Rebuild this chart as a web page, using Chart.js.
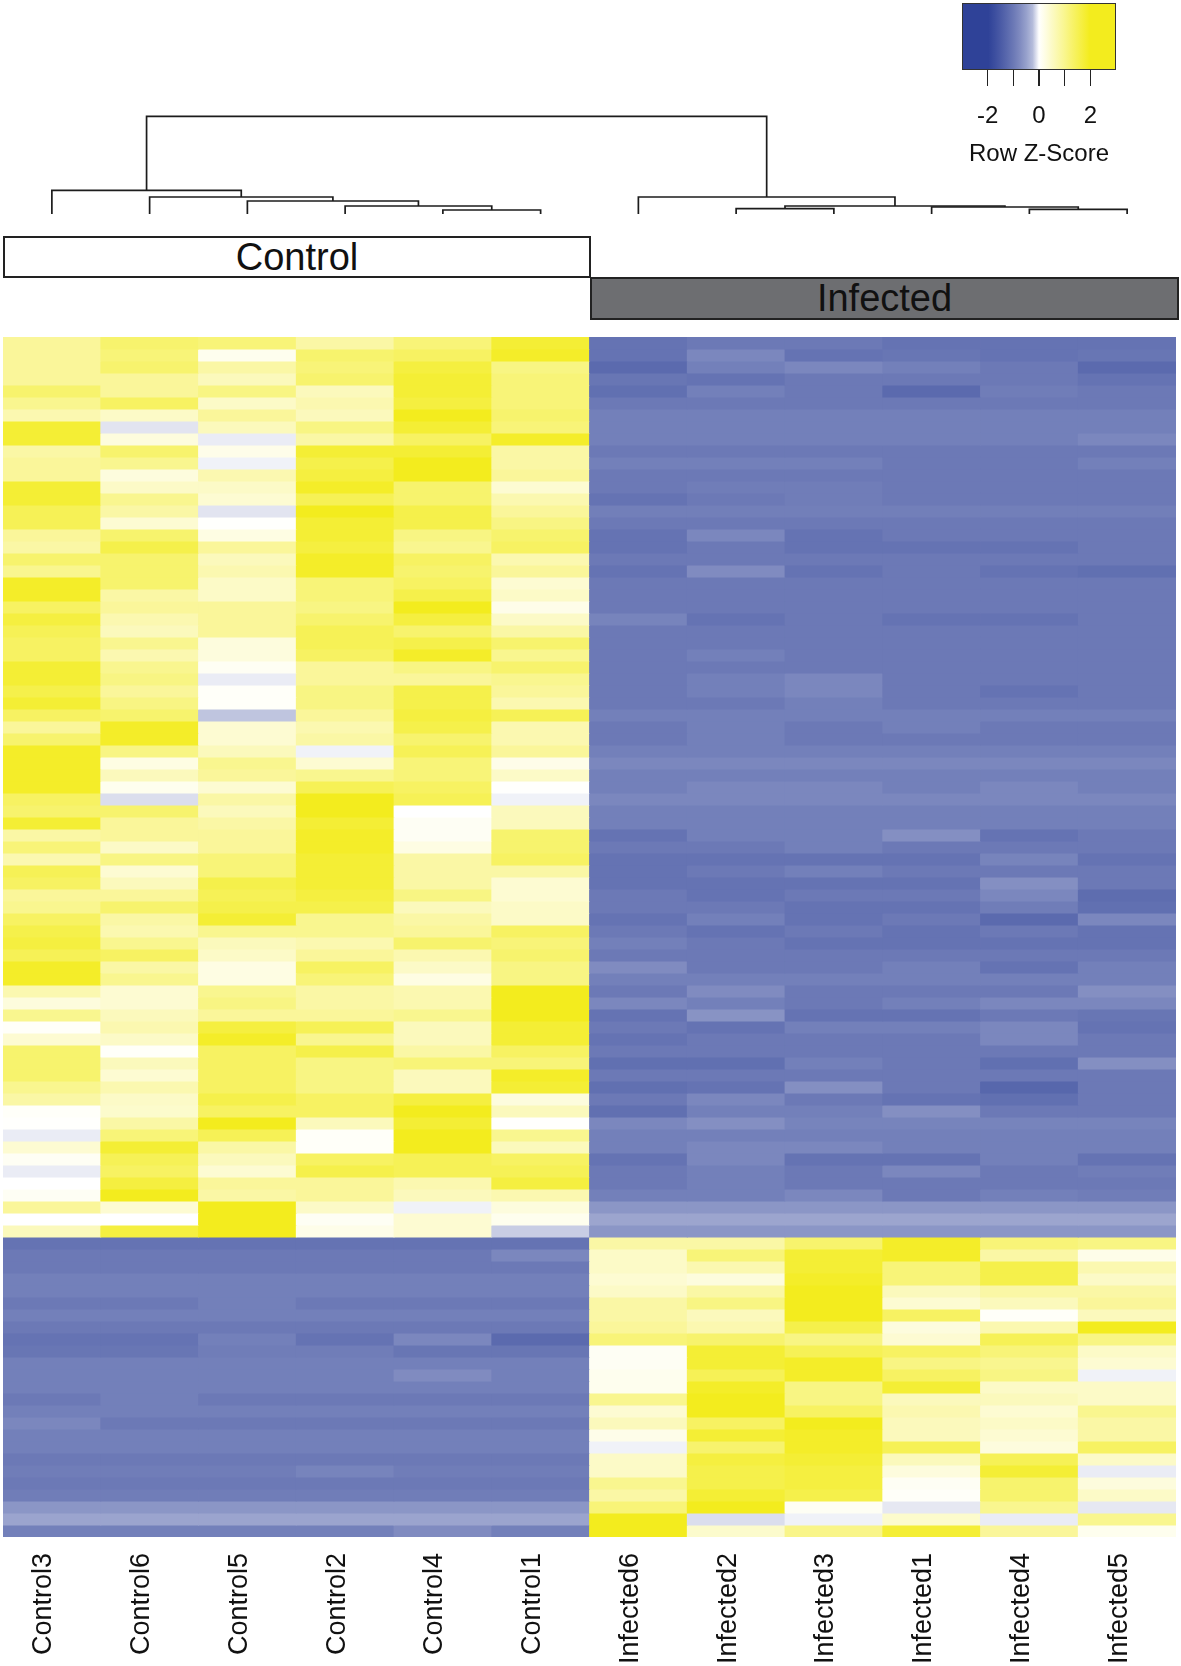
<!DOCTYPE html>
<html>
<head>
<meta charset="utf-8">
<script src="https://cdn.jsdelivr.net/npm/chart.js@4.4.1/dist/chart.umd.min.js"></script>
<style>
  body { margin: 0; background: #fff; width: 1181px; height: 1666px; position: relative; overflow: hidden;
         font-family: "Liberation Sans", Arial, Helvetica, sans-serif; color: #111; }
  #dendro { position: absolute; left: 3px; top: 108px; }
  #heat { position: absolute; left: 3px; top: 337px; }
  .band { position: absolute; box-sizing: border-box; border: 2px solid #222; font-size: 38px;
          line-height: 38px; text-align: center; color: #111; }
  #bandControl { left: 3px; top: 236px; width: 588px; height: 42px; background: #fff; }
  #bandInfected { left: 590px; top: 277px; width: 589px; height: 43px; background: #6d6e71; }
  #keyBox { position: absolute; left: 962px; top: 3px; width: 154px; height: 67px; box-sizing: border-box;
            border: 1.5px solid #333; }
  .keyTick { position: absolute; top: 70px; width: 1.6px; height: 16px; background: #222; }
  .keyLab { position: absolute; font-size: 24px; line-height: 28px; text-align: center; width: 60px; }
  #keyTitle { position: absolute; left: 959px; top: 139px; width: 160px; font-size: 24px; line-height: 28px; text-align: center; }
</style>
</head>
<body>
<canvas id="dendro" width="1173" height="112"></canvas>
<div class="band" id="bandControl">Control</div>
<div class="band" id="bandInfected">Infected</div>
<div id="keyBox"></div>
<div id="keyTitle">Row Z-Score</div>
<canvas id="heat" width="1173" height="1329"></canvas>
<script>
// Column order as shown (dendrogram leaf order)
const samples = ['Control3', 'Control6', 'Control5', 'Control2', 'Control4', 'Control1',
                 'Infected6', 'Infected2', 'Infected3', 'Infected1', 'Infected4', 'Infected5'];

// Row Z-scores per sample, 100 genes top to bottom
const control3 = [0.9,0.9,0.9,0.9,1.3,1.0,0.7,1.8,1.8,0.8, 0.9,0.9,1.8,1.8,1.5,1.5,0.9,0.8,1.3,1.0,
  1.9,1.9,1.4,1.7,1.5,1.4,1.4,1.8,1.8,1.6, 1.8,1.4,0.9,1.3,1.9,1.9,1.9,1.9,1.4,1.3,
  1.8,0.8,1.2,0.7,1.5,1.4,0.9,1.0,1.4,1.6, 1.7,1.5,1.9,1.9,0.7,0.3,1.0,0.05,0.4,1.3,
  1.3,1.3,1.0,0.8,0.05,0.02,-0.02,0.4,0.1,-0.02, 0.0,0.1,0.9,0.0,0.6,
  -1.1,-1.0,-1.0,-0.9,-0.9,-1.0,-0.9,-1.0,-1.1,-1.05, -0.9,-0.9,-0.9,-1.0,-0.9,-0.8,-0.9,-0.9,-1.0,-0.95,
  -1.0,-0.95,-0.62,-0.46,-0.9];
const control6 = [1.3,1.2,1.3,0.9,0.9,1.4,0.5,-0.04,0.3,1.3, 1.0,0.3,0.5,1.0,0.8,0.4,1.3,1.6,1.3,1.3,
  1.3,0.8,0.9,0.7,0.6,1.0,0.7,1.0,1.1,0.9, 1.1,1.3,1.9,1.9,1.1,0.25,0.6,0.15,-0.06,1.3,
  0.9,0.9,0.5,1.1,0.4,0.6,0.9,1.3,0.8,0.7, 1.0,1.4,0.8,1.0,0.4,0.4,0.6,0.7,0.5,0.05,
  0.6,0.4,0.7,0.5,0.45,0.8,1.2,1.8,1.5,1.4, 1.7,2.0,0.4,0.0,1.7,
  -1.1,-1.0,-1.0,-0.9,-0.9,-1.0,-0.9,-1.0,-1.1,-1.05, -0.9,-0.9,-0.9,-0.9,-0.9,-1.0,-0.9,-0.9,-1.0,-0.95,
  -1.0,-0.95,-0.62,-0.46,-0.9];
const control5 = [1.2,0.15,0.8,0.6,1.1,0.5,0.9,0.6,-0.02,0.2, -0.01,0.7,0.5,0.4,-0.04,0.02,0.25,0.9,0.6,0.7,
  0.5,0.5,0.9,0.9,0.9,0.3,0.3,0.1,-0.02,0.05, 0.05,-0.19,0.4,0.4,0.6,1.0,0.9,0.4,0.8,0.6,
  0.8,0.9,0.9,1.2,1.2,1.6,1.5,1.6,1.8,1.0, 0.6,0.5,0.25,0.25,1.0,1.1,0.9,1.7,1.9,1.4,
  1.4,1.4,1.4,1.6,1.4,2.0,1.5,0.8,0.6,0.4, 0.9,0.8,2.0,2.0,2.0,
  -1.1,-1.0,-1.0,-0.9,-0.9,-0.9,-0.9,-1.0,-0.9,-0.95, -0.9,-0.9,-0.9,-1.0,-0.9,-1.0,-0.9,-0.9,-1.0,-0.95,
  -1.0,-0.95,-0.62,-0.46,-0.9];
const control2 = [0.8,1.3,1.2,1.3,0.6,0.7,0.6,1.1,0.8,1.8, 1.6,1.7,1.9,1.5,2.0,1.8,1.8,1.7,1.9,1.9,
  1.2,1.2,1.1,1.3,1.5,1.5,1.4,0.9,0.9,1.1, 1.1,0.9,0.7,0.8,-0.01,0.4,1.0,1.5,2.0,2.0,
  1.8,1.9,1.9,1.8,1.8,1.8,1.7,1.6,1.0,1.0, 0.7,0.9,1.4,1.2,0.8,0.8,0.9,1.5,1.0,1.6,
  1.1,1.1,1.1,1.4,1.4,0.6,0.05,0.05,1.4,1.6, 0.9,0.9,0.5,0.1,0.2,
  -1.1,-1.0,-1.0,-0.9,-0.9,-1.0,-0.9,-1.0,-1.1,-0.95, -0.9,-0.9,-0.9,-1.0,-0.9,-1.0,-0.9,-0.9,-1.0,-0.85,
  -1.0,-0.95,-0.62,-0.46,-0.9];
const control4 = [1.2,1.4,1.7,1.8,1.8,1.7,2.0,1.8,1.4,1.8, 2.0,2.0,1.3,1.3,1.6,1.6,1.1,1.0,1.4,1.3,
  1.4,1.6,2.0,1.7,1.3,1.6,1.9,1.1,0.9,1.6, 1.6,1.7,1.6,1.3,1.5,1.2,1.2,1.4,1.5,0.0,
  0.1,0.1,0.25,0.8,0.8,0.8,1.1,0.6,0.8,0.9, 1.3,0.7,0.5,0.25,0.7,0.7,1.0,0.6,0.6,0.8,
  1.2,0.6,0.6,1.7,2.0,1.8,2.0,2.0,1.5,1.5, 0.7,0.6,-0.01,0.4,0.4,
  -1.1,-1.0,-1.0,-0.9,-0.9,-1.0,-0.9,-1.0,-0.8,-1.05, -0.9,-0.75,-0.9,-1.0,-0.9,-1.0,-0.9,-0.9,-1.0,-0.95,
  -1.0,-0.95,-0.62,-0.46,-0.75];
const control1 = [1.8,1.9,1.1,1.2,1.2,1.2,1.3,1.2,1.9,0.8, 0.8,0.9,0.4,0.7,0.9,1.1,1.3,1.4,0.7,0.9,
  0.4,0.5,0.2,0.5,0.8,1.3,1.0,1.3,1.0,0.9, 0.7,1.5,0.7,0.7,0.9,0.2,0.5,0.02,-0.01,0.6,
  0.6,1.3,1.3,1.4,0.8,0.4,0.4,0.5,0.5,1.4, 1.2,1.3,1.1,1.1,2.0,2.0,2.0,1.8,1.8,1.4,
  1.2,1.9,1.8,0.3,0.6,0.02,1.0,0.6,1.4,1.5, 1.7,0.7,0.3,0.15,-0.14,
  -1.1,-0.8,-1.0,-0.9,-0.9,-1.0,-0.9,-1.0,-1.25,-1.05, -0.9,-0.9,-0.9,-1.0,-0.9,-1.0,-0.9,-0.9,-1.0,-0.95,
  -1.0,-0.95,-0.62,-0.46,-0.9];
const infected6 = [-1.1,-1.1,-1.25,-1.05,-1.15,-1.0,-0.9,-0.9,-0.9,-1.0, -0.9,-1.0,-1.0,-1.1,-0.92,-1.0,-1.1,-1.1,-1.0,-1.1,
  -1.0,-1.0,-1.0,-0.85,-1.0,-1.0,-1.0,-1.0,-1.0,-1.0, -1.0,-0.9,-1.0,-1.0,-0.9,-0.8,-0.9,-0.9,-0.8,-0.9,
  -0.9,-1.1,-1.0,-1.1,-1.1,-1.1,-1.0,-1.0,-1.1,-1.0, -0.9,-1.0,-0.75,-0.9,-1.0,-0.8,-1.1,-1.0,-1.1,-1.0,
  -1.15,-1.0,-1.15,-1.0,-1.15,-0.8,-0.9,-0.9,-1.1,-1.0, -1.0,-0.9,-0.62,-0.45,-0.62,
  0.8,0.5,0.5,0.4,0.5,0.8,0.8,0.9,1.2,0.1, 0.1,0.15,0.15,1.0,0.4,0.6,0.2,-0.01,0.5,0.5,
  1.0,0.8,1.2,2.0,2.0];
const infected2 = [-1.0,-0.8,-0.9,-1.1,-0.9,-1.0,-0.9,-0.9,-0.9,-1.0, -0.9,-1.0,-0.95,-1.0,-0.92,-1.0,-0.8,-1.0,-1.0,-0.75,
  -1.0,-1.0,-1.0,-1.1,-1.0,-1.0,-0.9,-1.0,-0.9,-0.9, -1.0,-0.9,-0.9,-0.9,-0.9,-0.8,-0.9,-0.8,-0.8,-0.9,
  -0.9,-0.9,-1.0,-1.1,-1.0,-1.1,-1.1,-1.0,-0.9,-1.1, -1.0,-1.0,-1.0,-0.9,-0.75,-0.9,-0.65,-1.1,-1.0,-1.0,
  -1.15,-1.0,-1.1,-0.8,-0.9,-0.7,-0.9,-0.8,-0.8,-0.9, -0.9,-0.9,-0.62,-0.45,-0.62,
  0.8,1.2,0.7,0.3,0.8,1.1,0.6,0.7,1.3,1.8, 1.8,1.5,1.9,2.0,2.0,1.4,1.8,1.3,1.7,1.6,
  1.6,1.8,2.0,-0.06,0.45];
const infected3 = [-1.0,-1.1,-0.8,-1.0,-1.0,-1.0,-0.9,-0.9,-0.9,-1.0, -0.9,-1.0,-0.95,-0.95,-0.92,-1.0,-1.1,-1.1,-1.0,-1.1,
  -1.0,-1.0,-1.0,-1.0,-1.0,-1.0,-1.0,-1.0,-0.8,-0.8, -0.9,-0.9,-1.0,-1.0,-0.9,-0.8,-0.9,-0.8,-0.8,-0.9,
  -0.9,-0.9,-0.9,-1.1,-0.9,-1.1,-1.0,-1.1,-1.1,-1.0, -1.1,-1.0,-1.0,-0.9,-1.0,-1.0,-1.1,-0.9,-1.0,-1.0,
  -0.9,-1.0,-0.7,-1.0,-0.9,-0.85,-0.9,-0.8,-1.1,-1.0, -1.0,-0.8,-0.62,-0.45,-0.62,
  1.3,1.8,1.8,1.9,2.0,2.0,2.0,1.6,1.1,1.5, 1.9,1.9,1.1,1.1,1.4,2.0,1.9,1.9,1.8,1.7,
  1.7,1.6,0.1,-0.01,1.05];
const infected1 = [-1.1,-1.05,-0.9,-1.0,-1.25,-1.0,-0.9,-0.9,-0.9,-1.0, -1.0,-1.0,-1.0,-1.0,-0.92,-1.0,-1.0,-1.1,-1.0,-1.0,
  -1.0,-1.0,-1.0,-1.1,-1.0,-1.0,-1.0,-1.0,-1.0,-1.0, -1.0,-0.9,-0.9,-1.0,-0.9,-0.8,-0.9,-0.9,-0.8,-0.9,
  -0.9,-0.7,-1.0,-1.1,-1.0,-1.1,-1.0,-1.1,-1.0,-1.1, -1.1,-1.0,-0.9,-0.9,-1.0,-0.9,-1.1,-0.9,-1.0,-1.0,
  -1.0,-1.0,-1.0,-1.1,-0.7,-0.85,-0.9,-0.9,-1.1,-0.8, -1.0,-1.0,-0.62,-0.45,-0.62,
  1.9,1.9,1.2,1.2,0.6,0.4,1.4,0.3,0.4,1.4, 1.1,1.4,1.8,0.6,0.7,0.6,0.6,1.5,0.6,0.3,
  0.1,0.05,-0.03,0.45,1.8];
const infected4 = [-1.1,-1.1,-1.0,-1.0,-0.95,-1.0,-0.9,-0.9,-0.9,-1.0, -1.0,-1.0,-1.0,-1.0,-0.92,-1.0,-1.0,-1.1,-1.0,-1.1,
  -1.0,-1.0,-1.0,-1.1,-1.0,-1.0,-1.0,-1.0,-1.0,-1.1, -1.0,-0.9,-1.0,-1.0,-0.9,-0.8,-0.9,-0.8,-0.8,-0.9,
  -0.9,-1.1,-1.0,-0.85,-1.0,-0.7,-0.8,-0.95,-1.25,-1.0, -1.1,-1.0,-1.1,-0.9,-1.0,-0.8,-1.0,-0.8,-0.8,-1.0,
  -1.15,-1.0,-1.3,-1.15,-1.0,-0.85,-0.9,-0.9,-0.9,-1.0, -1.0,-0.9,-0.62,-0.45,-0.62,
  1.2,0.8,1.6,1.6,0.8,0.6,0.05,0.7,1.5,1.2, 1.0,1.1,0.5,0.6,0.4,0.5,0.4,0.3,1.5,1.8,
  1.3,1.3,1.0,-0.02,0.9];
const infected5 = [-1.1,-1.05,-1.25,-1.1,-1.0,-1.0,-0.9,-0.9,-0.8,-1.0, -0.9,-1.0,-1.0,-1.0,-0.92,-1.0,-1.0,-1.0,-1.0,-1.15,
  -1.0,-1.0,-1.0,-1.0,-1.0,-1.0,-1.0,-1.0,-1.0,-1.0, -1.0,-0.9,-1.0,-1.0,-0.9,-0.8,-0.9,-0.9,-0.8,-0.9,
  -0.9,-1.0,-1.0,-1.1,-1.0,-1.0,-1.2,-1.15,-0.8,-1.1, -1.1,-1.0,-0.9,-0.9,-0.7,-0.8,-1.05,-1.1,-1.0,-1.0,
  -0.7,-1.0,-1.0,-1.0,-1.0,-0.85,-0.9,-0.9,-1.1,-0.95, -1.0,-0.95,-0.62,-0.45,-0.62,
  1.1,0.2,0.7,0.5,0.8,0.9,0.6,2.0,1.1,0.5, 0.4,-0.01,0.5,0.5,1.0,0.8,0.8,1.4,0.5,-0.02,
  0.3,0.5,-0.03,1.0,0.15];

const zColumns = [control3, control6, control5, control2, control4, control1,
                  infected6, infected2, infected3, infected1, infected4, infected5];

// Column dendrogram, hclust style: -k = k-th leaf (1-based, display order), +k = k-th merge
const mergeLeft   = [-5, -4, -3, -2, -1, -11, -8, -10, 7, -7, 5];
const mergeRight  = [-6,  1,  2,  3,  4, -12, -9,   6, 8,  9, 10];
const mergeHeight = [4.0, 8.0, 13.0, 17.0, 23.6, 4.6, 5.3, 7.0, 8.0, 17.0, 97.6];

const keyTicks = [-2, -1, 0, 1, 2];

// blue - white - yellow ramp
const lowCol = [47, 66, 152];
const highCol = [243, 236, 30];
function zColor(v) {
  let s, c;
  if (v < 0) { s = Math.sqrt(Math.min(1, -v / 2)); c = lowCol; }
  else { s = Math.min(1, v / 2); c = highCol; }
  const m = c.map(ch => Math.round(255 + (ch - 255) * s));
  return `rgb(${m[0]},${m[1]},${m[2]})`;
}

// ---- dendrogram ----
const nodeX = [], nodeH = [];
function childPos(k) {
  return k < 0 ? { x: -k - 0.5, h: 0 } : { x: nodeX[k - 1], h: nodeH[k - 1] };
}
const dendroSets = mergeLeft.map((l, i) => {
  const a = childPos(l), b = childPos(mergeRight[i]);
  nodeX[i] = (a.x + b.x) / 2;
  nodeH[i] = mergeHeight[i];
  return {
    data: [{x: a.x, y: a.h}, {x: a.x, y: mergeHeight[i]}, {x: b.x, y: mergeHeight[i]}, {x: b.x, y: b.h}],
    showLine: true, borderColor: '#1c1c1c', borderWidth: 1.7, pointRadius: 0, tension: 0, clip: false
  };
});

new Chart(document.getElementById('dendro'), {
  type: 'scatter',
  data: { datasets: dendroSets },
  options: {
    responsive: false, animation: false,
    layout: { padding: { top: 6, bottom: 6, left: 0, right: 0 } },
    plugins: { legend: { display: false }, tooltip: { enabled: false } },
    scales: {
      x: { type: 'linear', min: 0, max: 12, display: false },
      y: { type: 'linear', min: 0, max: 100, display: false }
    }
  }
});

// ---- heatmap: one floating-bar dataset per gene row ----
const nRows = control3.length;
const heatSets = [];
for (let r = 0; r < nRows; r++) {
  heatSets.push({
    data: samples.map(() => [r, r + 1]),
    backgroundColor: zColumns.map(col => zColor(col[r])),
    borderWidth: 0,
    inflateAmount: 0.4,
    grouped: false,
    barPercentage: 1,
    categoryPercentage: 1
  });
}

new Chart(document.getElementById('heat'), {
  type: 'bar',
  data: { labels: samples, datasets: heatSets },
  options: {
    responsive: false, animation: false,
    layout: { padding: 0 },
    plugins: { legend: { display: false }, tooltip: { enabled: false } },
    scales: {
      x: {
        grid: { display: false, drawTicks: false },
        border: { display: false },
        ticks: {
          autoSkip: false, minRotation: 90, maxRotation: 90, padding: 16, labelOffset: -8,
          color: '#111', font: { family: 'Liberation Sans', size: 27 }
        },
        afterFit: scale => { scale.height = 129; }
      },
      y: { type: 'linear', min: 0, max: nRows, reverse: true, display: false }
    }
  }
});

// ---- colour key ----
const keyMin = -3, keyMax = 3, keyLeft = 962, keyWidth = 154;
const stops = [];
for (let v = keyMin; v <= keyMax + 1e-9; v += 0.25) {
  stops.push(`${zColor(v)} ${((v - keyMin) / (keyMax - keyMin) * 100).toFixed(1)}%`);
}
document.getElementById('keyBox').style.background = `linear-gradient(to right, ${stops.join(', ')})`;
keyTicks.forEach(v => {
  const x = keyLeft + (v - keyMin) / (keyMax - keyMin) * keyWidth;
  const t = document.createElement('div');
  t.className = 'keyTick';
  t.style.left = (x - 0.8) + 'px';
  document.body.appendChild(t);
  if (v % 2 === 0) {
    const lab = document.createElement('div');
    lab.className = 'keyLab';
    lab.textContent = String(v);
    lab.style.left = (x - 30) + 'px';
    lab.style.top = '101px';
    document.body.appendChild(lab);
  }
});
</script>
</body>
</html>
